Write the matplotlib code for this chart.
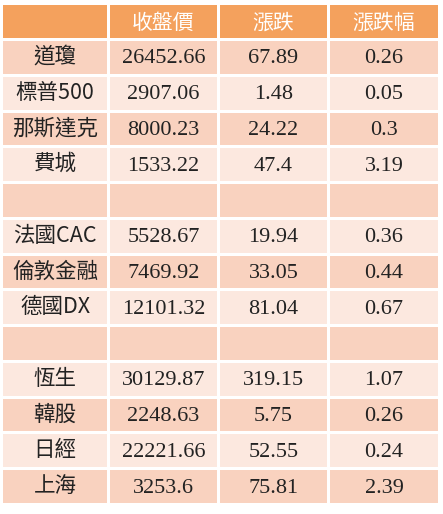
import matplotlib.pyplot as plt
from matplotlib.patches import Rectangle

headers = ['', '收盤價', '漲跌', '漲跌幅']
names = ['道瓊', '標普500', '那斯達克', '費城', '', '法國CAC', '倫敦金融', '德國DX', '',
         '恆生', '韓股', '日經', '上海']
close = ['26452.66', '2907.06', '8000.23', '1533.22', '', '5528.67', '7469.92', '12101.32', '',
         '30129.87', '2248.63', '22221.66', '3253.6']
change = ['67.89', '1.48', '24.22', '47.4', '', '19.94', '33.05', '81.04', '',
          '319.15', '5.75', '52.55', '75.81']
pct = ['0.26', '0.05', '0.3', '3.19', '', '0.36', '0.44', '0.67', '',
       '1.07', '0.26', '0.24', '2.39']

HEAD = '#F4A15D'
DARK = '#F9D2BF'
LIGHT = '#FCE8DF'
CJK = ['Noto Sans CJK TC', 'DejaVu Sans']
NUM = 'Liberation Serif'

fig = plt.figure(figsize=(4.43, 5.14), dpi=100)
ax = fig.add_axes([0, 0, 1, 1])
ax.set_xlim(0, 443)
ax.set_ylim(514, 0)
ax.axis('off')

col_x = [3, 110, 220, 330]
col_w = [104, 107, 107, 108]
gap = 3

# header
y0, h0 = 5, 33
for i, (x, w) in enumerate(zip(col_x, col_w)):
    ax.add_patch(Rectangle((x, y0), w, h0, facecolor=HEAD, edgecolor='none'))
    ax.text(x + w / 2, y0 + h0 / 2 + 1, headers[i], ha='center', va='center',
            fontsize=15, color='white', family=CJK)

# body
top, bottom = 41, 506
rh = (bottom - top) / len(names)
for r in range(len(names)):
    y = top + r * rh
    color = DARK if r % 2 == 0 else LIGHT
    vals = [names[r], close[r], change[r], pct[r]]
    for c, (x, w) in enumerate(zip(col_x, col_w)):
        ax.add_patch(Rectangle((x, y), w, rh - gap, facecolor=color, edgecolor='none'))
        if c == 0:
            ax.text(x + w / 2, y + rh / 2 - 2, vals[c], ha='center', va='center',
                    fontsize=15.5, color='#222222', family=CJK)
        else:
            ax.text(x + w / 2, y + rh / 2, vals[c], ha='center', va='center',
                    fontsize=16, color='#222222', family=NUM)

fig.savefig('out.png', dpi=100, facecolor='white')
